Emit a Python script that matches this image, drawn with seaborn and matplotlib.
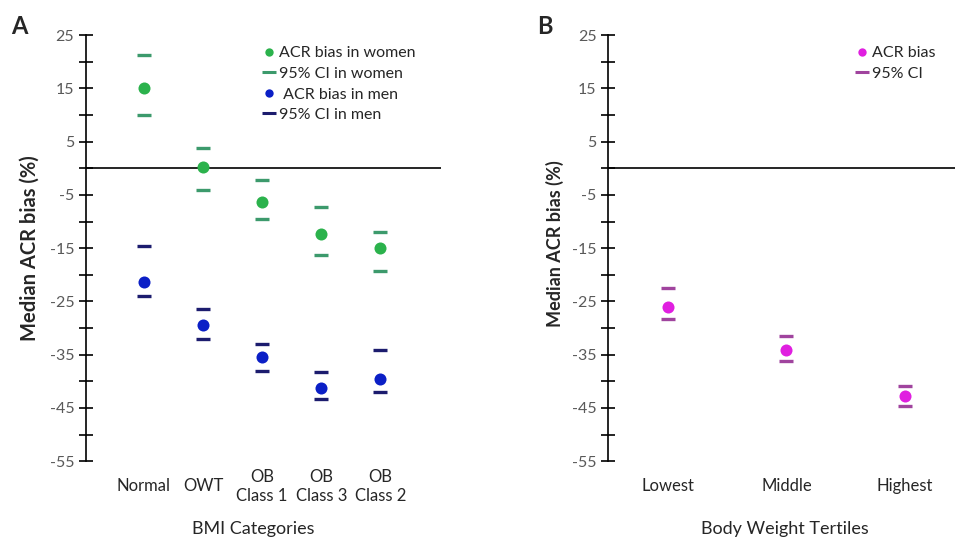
import numpy as np
import pandas as pd
import matplotlib
matplotlib.use("Agg")
import matplotlib.pyplot as plt
import seaborn as sns
from matplotlib.lines import Line2D

# Panel A: BMI categories
bmi_cats = ["Normal", "OWT", "OB\nClass 1", "OB\nClass 3", "OB\nClass 2"]
women_bias = [15.0, 0.2, -6.4, -12.4, -15.0]
women_upper = [21.2, 3.9, -2.1, -7.3, -12.0]
women_lower = [10.0, -4.0, -9.6, -16.3, -19.3]
men_bias = [-21.4, -29.5, -35.5, -41.3, -39.6]
men_upper = [-14.5, -26.5, -33.0, -38.3, -34.2]
men_lower = [-24.0, -32.0, -38.0, -43.4, -42.0]

# Panel B: body weight tertiles
tertiles = ["Lowest", "Middle", "Highest"]
tert_bias = [-26.0, -34.2, -42.8]
tert_upper = [-22.4, -31.5, -40.8]
tert_lower = [-28.2, -36.2, -44.6]

WOMEN_DOT = "#2bb24c"
WOMEN_CI = "#3c9a6c"
MEN_DOT = "#0b1fc6"
MEN_CI = "#1c1c6e"
TERT_DOT = "#e01fe0"
TERT_CI = "#a0449e"

sns.set_style("white")
plt.rcParams["font.family"] = ["Lato", "DejaVu Sans"]
plt.rcParams["axes.unicode_minus"] = False


def style_axis(ax, xlim):
    ax.set_ylim(-55, 25)
    ax.set_xlim(*xlim)
    ax.set_yticks(np.arange(-55, 26, 10))
    ax.set_yticks(np.arange(-50, 26, 10), minor=True)
    ax.tick_params(axis="y", which="both", direction="inout", length=10,
                   width=1.2, colors="black", labelcolor="#595959",
                   labelsize=11.5, left=True)
    ax.tick_params(axis="x", length=0, labelsize=12, labelcolor="#262626", pad=18)
    for lab in ax.get_xticklabels():
        lab.set_verticalalignment("center")
    for s in ["top", "right", "bottom"]:
        ax.spines[s].set_visible(False)
    ax.spines["left"].set_color("black")
    ax.spines["left"].set_linewidth(1.2)
    ax.axhline(0, color="black", lw=1.2, zorder=1)


def draw_series(ax, cats, mid, up, lo, dot_color, ci_color):
    df = pd.DataFrame({"cat": cats, "mid": mid, "up": up, "lo": lo})
    sns.scatterplot(data=df, x="cat", y="up", marker="_", s=110, linewidth=2.4,
                    color=ci_color, ax=ax, zorder=3)
    sns.scatterplot(data=df, x="cat", y="lo", marker="_", s=110, linewidth=2.4,
                    color=ci_color, ax=ax, zorder=3)
    sns.scatterplot(data=df, x="cat", y="mid", marker="o", s=75, linewidth=0,
                    color=dot_color, ax=ax, zorder=4)


fig = plt.figure(figsize=(9.55, 5.42), dpi=100)
axA = fig.add_axes([0.090, 0.149, 0.372, 0.786])
axB = fig.add_axes([0.637, 0.149, 0.363, 0.786])

draw_series(axA, bmi_cats, women_bias, women_upper, women_lower, WOMEN_DOT, WOMEN_CI)
draw_series(axA, bmi_cats, men_bias, men_upper, men_lower, MEN_DOT, MEN_CI)
style_axis(axA, (-0.98, 5.03))
axA.set_xlabel("BMI Categories", fontsize=13, color="#262626")
axA.xaxis.set_label_coords(0.47, -0.14)
axA.set_ylabel("Median ACR bias (%)", fontsize=14.5, fontweight="bold")
axA.yaxis.set_label_coords(-0.13, 0.5)

draw_series(axB, tertiles, tert_bias, tert_upper, tert_lower, TERT_DOT, TERT_CI)
style_axis(axB, (-0.5, 2.42))
axB.set_xlabel("Body Weight Tertiles", fontsize=13, color="#262626")
axB.xaxis.set_label_coords(0.51, -0.14)
axB.set_ylabel("Median ACR bias (%)", fontsize=13, fontweight="bold")
axB.yaxis.set_label_coords(-0.128, 0.51)

handles_a = [
    Line2D([], [], ls="", marker="o", ms=6, color=WOMEN_DOT, mew=0),
    Line2D([], [], ls="", marker="_", ms=10, mew=2.2, color=WOMEN_CI),
    Line2D([], [], ls="", marker="o", ms=6, color=MEN_DOT, mew=0),
    Line2D([], [], ls="", marker="_", ms=10, mew=2.2, color=MEN_CI),
]
labels_a = ["ACR bias in women", "95% CI in women", " ACR bias in men", "95% CI in men"]
axA.legend(handles_a, labels_a, frameon=False, loc="upper left",
           bbox_to_anchor=(0.46, 1.008), fontsize=11.5, handlelength=0.6,
           handletextpad=0.35, labelspacing=0.4, labelcolor="#262626")

handles_b = [
    Line2D([], [], ls="", marker="o", ms=6, color=TERT_DOT, mew=0),
    Line2D([], [], ls="", marker="_", ms=10, mew=2.2, color=TERT_CI),
]
axB.legend(handles_b, ["ACR bias", "95% CI"], frameon=False, loc="upper left",
           bbox_to_anchor=(0.675, 1.008), fontsize=11.5, handlelength=0.6,
           handletextpad=0.35, labelspacing=0.4, labelcolor="#262626")

fig.text(0.012, 0.952, "A", fontsize=17, fontweight="bold", va="center")
fig.text(0.562, 0.952, "B", fontsize=17, fontweight="bold", va="center")

fig.savefig("out.png", dpi=100)
